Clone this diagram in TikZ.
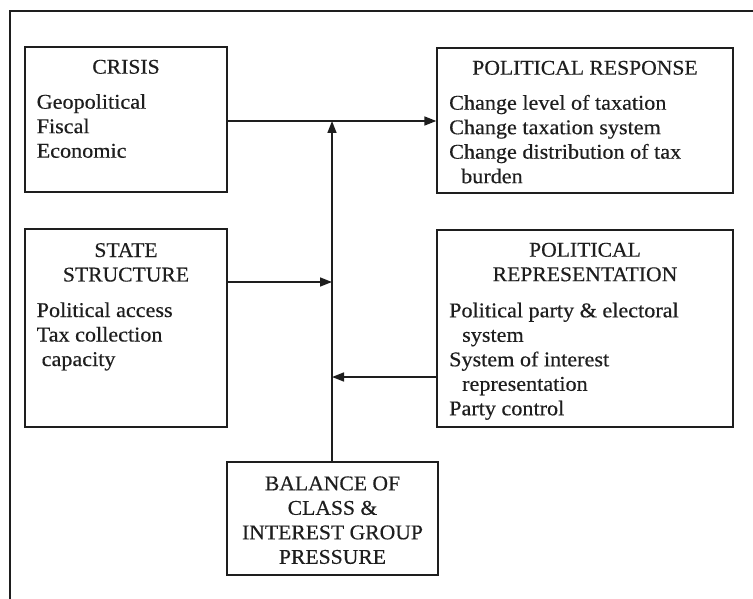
\documentclass[tikz,border=0pt]{standalone}
\usepackage{fontspec}
\setmainfont{Liberation Serif}
\newfontfamily\bodyfont[FakeStretch=1.055,FakeBold=0.4]{Liberation Serif}
\newfontfamily\ttlfont[FakeStretch=1.03,FakeBold=0.4]{Liberation Serif}
\usetikzlibrary{arrows.meta}
\definecolor{ink}{HTML}{1E1E1E}
\tikzset{
  box/.style={draw=ink, line width=1.3pt, inner sep=0pt},
  ttl/.style={anchor=base, inner sep=0pt, text=ink, font=\ttlfont\fontsize{21}{24.5}\selectfont},
  bdy/.style={anchor=base west, inner sep=0pt, text=ink, font=\bodyfont\fontsize{21}{24.5}\selectfont},
  conn/.style={draw=ink, line width=1.6pt},
  arr/.style={conn, -{Triangle[length=12pt,width=9pt]}},
  frame/.style={draw=ink, line width=1.8pt}
}
\newcommand{\lft}[1]{\begin{tabular}[t]{@{}l@{}}#1\end{tabular}}
\newcommand{\ctr}[1]{\begin{tabular}[t]{@{}c@{}}#1\end{tabular}}
\begin{document}
\begin{tikzpicture}[x=1pt,y=-1pt]
\useasboundingbox (0,0) rectangle (753,599);
\fill[white] (0,0) rectangle (753,599);
\coordinate (fbl) at (10,599);
\coordinate (ftl) at (10,11);
\coordinate (ftr) at (753,11);
\draw[frame] (fbl) -- (ftl) -- (ftr);

% boxes
\node[box, minimum width=202pt, minimum height=145pt] (crisis) at (126,119.5) {};
\node[box, minimum width=296pt, minimum height=145pt] (resp) at (585,120.5) {};
\node[box, minimum width=202pt, minimum height=198pt] (state) at (126,328) {};
\node[box, minimum width=296pt, minimum height=197pt] (rep) at (585,328.5) {};
\node[box, minimum width=211pt, minimum height=113pt] (bal) at (332.5,518.5) {};

% texts
\node[ttl] (crisisT) at (126,73.7) {CRISIS};
\node[bdy] (crisisB) at (36.5,108.7) {\lft{Geopolitical\\Fiscal\\Economic}};
\node[ttl] (stateT) at (126,257) {\ctr{STATE\\STRUCTURE}};
\node[bdy] (stateB) at (36.5,317) {\lft{Political access\\Tax collection\\\hspace*{5pt}capacity}};
\node[ttl] (respT) at (585,74.7) {POLITICAL RESPONSE};
\node[bdy] (respB) at (449,109.7) {\lft{Change level of taxation\\Change taxation system\\Change distribution of tax\\\hspace*{12pt}burden}};
\node[ttl] (repT) at (585,256.7) {\ctr{POLITICAL\\REPRESENTATION}};
\node[bdy] (repB) at (449,317.3) {\lft{Political party \& electoral\\\hspace*{13pt}system\\System of interest\\\hspace*{13pt}representation\\Party control}};
\node[ttl] (balT) at (332.5,490.3) {\ctr{BALANCE OF\\CLASS \&\\INTEREST GROUP\\PRESSURE}};

% junctions
\coordinate (j1) at (332,121);
\coordinate (j2) at (332,282);
\coordinate (j3) at (332,377);

% connectors
\draw[arr] (crisis.east |- j1) -- (resp.west |- j1);
\draw[arr] (bal.north -| j1) -- (j1);
\draw[arr] (state.east |- j2) -- (j2);
\draw[arr] (rep.west |- j3) -- (j3);
\end{tikzpicture}
\end{document}
